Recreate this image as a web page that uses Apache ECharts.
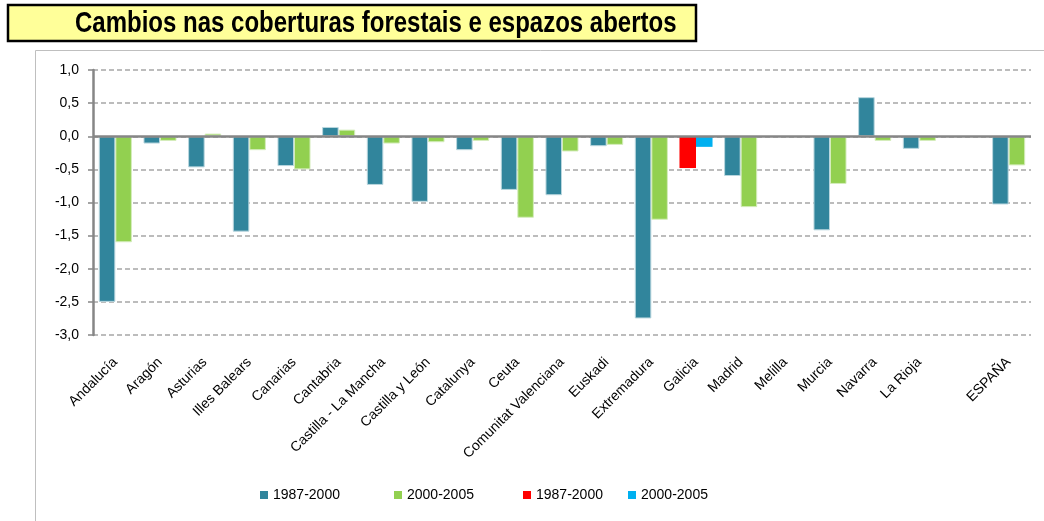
<!DOCTYPE html>
<html>
<head>
<meta charset="utf-8">
<script src="https://cdn.jsdelivr.net/npm/echarts@6/dist/echarts.min.js"></script>
<style>
  html, body { margin: 0; padding: 0; background: #fff; }
  #chart { width: 1044px; height: 521px; }
</style>
</head>
<body>
<div id="chart"></div>
<script>
// Regions (blank slot separates the national total)
const categories = ['Andalucía', 'Aragón', 'Asturias', 'Illes Balears', 'Canarias', 'Cantabria',
  'Castilla - La Mancha', 'Castilla y León', 'Catalunya', 'Ceuta', 'Comunitat Valenciana',
  'Euskadi', 'Extremadura', 'Galicia', 'Madrid', 'Melilla', 'Murcia', 'Navarra', 'La Rioja',
  '', 'ESPAÑA'];

// Annual change (%) in forest cover and open spaces
const change1987_2000 = [-2.50, -0.11, -0.47, -1.44, -0.45, 0.14, -0.735, -0.99, -0.21, -0.81,
  -0.89, -0.15, -2.75, null, -0.60, null, -1.42, 0.59, -0.19, null, -1.03];
const change2000_2005 = [-1.60, -0.07, 0.04, -0.21, -0.50, 0.10, -0.11, -0.09, -0.07, -1.23,
  -0.23, -0.13, -1.26, null, -1.07, null, -0.72, -0.07, -0.07, null, -0.44];
// Galicia shown in its own colours
const galicia1987_2000 = [null, null, null, null, null, null, null, null, null, null,
  null, null, null, -0.48, null, null, null, null, null, null, null];
const galicia2000_2005 = [null, null, null, null, null, null, null, null, null, null,
  null, null, null, -0.16, null, null, null, null, null, null, null];

const yTicks = { min: -3, max: 1, interval: 0.5 };

const chart = echarts.init(document.getElementById('chart'), null, { renderer: 'canvas' });

const FONT = '"Liberation Sans", Arial, sans-serif';

function legendAt(left, name) {
  return {
    left: left, top: 483, orient: 'horizontal',
    data: [name],
    icon: 'rect', itemWidth: 8, itemHeight: 8,
    itemStyle: { borderWidth: 0 },
    selectedMode: false,
    formatter: n => n.trim(),
    textStyle: { fontFamily: FONT, fontSize: 14, color: '#000' }
  };
}

const option = {
  animation: false,
  backgroundColor: '#fff',
  graphic: [
    { type: 'rect', z: -10, silent: true,
      shape: { x: 35.5, y: 50.5, width: 1030, height: 490 },
      style: { fill: 'none', stroke: '#bfbfbf', lineWidth: 1 } },
    { type: 'rect', z: 10, silent: true,
      shape: { x: 8, y: 5, width: 688, height: 36 },
      style: { fill: '#FFFF99', stroke: '#000', lineWidth: 2.5 } },
    // condensed bold title
    { type: 'text', z: 11, silent: true, x: 75, y: 24, scaleX: 0.8, scaleY: 1,
      style: { text: 'Cambios nas coberturas forestais e espazos abertos',
        x: 0, y: 0, verticalAlign: 'middle', align: 'left',
        font: 'bold 30px "Liberation Sans", Arial, sans-serif',
        fill: '#000' } }
  ],
  legend: [
    legendAt(255, '1987-2000'),
    legendAt(389, '2000-2005'),
    legendAt(518, '1987-2000 '),
    legendAt(623, '2000-2005 ')
  ],
  grid: { left: 93, right: 13, top: 70, bottom: 186, containLabel: false },
  xAxis: {
    type: 'category',
    data: categories,
    axisLine: { show: false, onZero: false },
    axisTick: { show: false },
    axisLabel: { interval: 0, rotate: 45, margin: 25, fontFamily: FONT, fontSize: 14, color: '#000' }
  },
  yAxis: {
    type: 'value',
    min: yTicks.min, max: yTicks.max, interval: yTicks.interval,
    axisLine: { show: true, lineStyle: { color: '#868686', width: 2.5 } },
    axisTick: { show: true, length: 5, lineStyle: { color: '#868686', width: 1.5 } },
    axisLabel: { margin: 14, fontFamily: FONT, fontSize: 14, color: '#000',
      formatter: v => v.toFixed(1).replace('.', ',') },
    splitLine: { show: true, lineStyle: { color: '#a6a6a6', width: 1.5, type: [5, 3] } }
  },
  series: [
    { name: '1987-2000', type: 'bar', stack: 'a', data: change1987_2000,
      barWidth: '37%', barGap: '0%',
      itemStyle: { color: '#31859C', borderColor: '#b9d6de', borderWidth: 1 },
      markLine: { silent: true, symbol: 'none', label: { show: false },
        lineStyle: { color: '#868686', width: 2.5, type: 'solid' },
        data: [{ yAxis: 0 }] } },
    { name: '2000-2005', type: 'bar', stack: 'b', data: change2000_2005,
      barWidth: '37%', barGap: '0%',
      itemStyle: { color: '#92D050', borderColor: '#d4ecbb', borderWidth: 1 } },
    { name: '1987-2000 ', type: 'bar', stack: 'a', data: galicia1987_2000,
      barWidth: '37%', barGap: '0%',
      itemStyle: { color: '#FF0000' } },
    { name: '2000-2005 ', type: 'bar', stack: 'b', data: galicia2000_2005,
      barWidth: '37%', barGap: '0%',
      itemStyle: { color: '#00B0F0' } }
  ]
};

chart.setOption(option);
</script>
</body>
</html>
